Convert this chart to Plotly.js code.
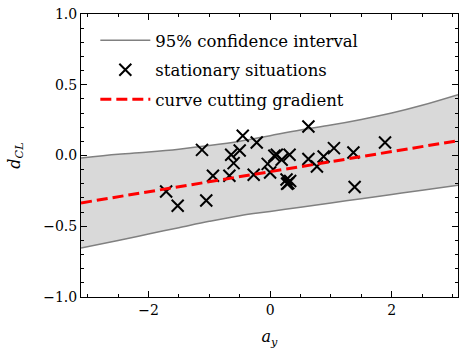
<!DOCTYPE html>
<html>
<head>
<meta charset="utf-8">
<script src="https://cdn.plot.ly/plotly-3.0.1.min.js"></script>
<style>
  body { margin: 0; background: #fff; }
  #plot { width: 466px; height: 355px; }
</style>
</head>
<body>
<div id="plot"></div>
<script>
// stationary situations
const ayPoints = [-1.71, -1.52, -1.12, -1.05, -0.94, -0.67, -0.64, -0.60, -0.50, -0.45,
    -0.22, -0.27, -0.04, 0.07, 0.0, 0.11, 0.19, 0.32, 0.27, 0.30, 0.33, 0.28,
    0.63, 0.63, 0.77, 0.88, 1.05, 1.37, 1.39, 1.89];
const dclPoints = [-0.254, -0.355, 0.04, -0.318, -0.143, -0.143, 0.005, -0.054, 0.035, 0.139,
    0.092, -0.136, -0.059, -0.002, -0.12, 0.005, -0.03, 0.005, -0.17, -0.195, -0.18, -0.2,
    0.205, -0.025, -0.078, -0.007, 0.052, 0.021, -0.223, 0.092];

// confidence band
const bandX = [-3.11, -2.5, -2, -1.5, -1, -0.5, 0, 0.5, 1, 1.5, 2, 2.5, 3.09];
const bandUpper = [-0.018, 0.008, 0.025, 0.045, 0.07, 0.10, 0.14, 0.18, 0.215, 0.255, 0.30, 0.355, 0.43];
const bandLower = [-0.654, -0.60, -0.555, -0.51, -0.465, -0.425, -0.395, -0.365, -0.335, -0.305, -0.275, -0.245, -0.21];

// curve cutting gradient
const lineX = [-3.11, 3.09];
const lineY = [-0.335, 0.105];

const serif = 'DejaVu Serif, Liberation Serif, serif';

const traces = [
    {
        x: bandX, y: bandLower, type: 'scatter', mode: 'lines',
        line: { color: '#808080', width: 1.5, shape: 'spline' },
        name: '95% confidence interval', legendgroup: 'ci'
    },
    {
        x: bandX, y: bandUpper, type: 'scatter', mode: 'lines',
        fill: 'tonexty', fillcolor: '#d9d9d9',
        line: { color: '#808080', width: 1.5, shape: 'spline' },
        showlegend: false, legendgroup: 'ci'
    },
    {
        x: ayPoints, y: dclPoints, type: 'scatter', mode: 'markers',
        marker: { symbol: 'x-thin-open', size: 12, color: 'black', line: { color: 'black', width: 2 } },
        name: 'stationary situations', legendgroup: 'pts'
    },
    {
        x: lineX, y: lineY, type: 'scatter', mode: 'lines',
        line: { color: 'red', width: 3, dash: '11px,5px' },
        name: 'curve cutting gradient', legendgroup: 'fit'
    }
];

const axisCommon = {
    showline: true, linecolor: 'black', linewidth: 1, mirror: 'allticks',
    ticks: 'inside', ticklen: 6, tickwidth: 1, tickcolor: 'black',
    showgrid: false, zeroline: false,
    tickfont: { family: serif, size: 14, color: 'black' }
};

const layout = {
    width: 466, height: 355,
    margin: { l: 81, r: 8, t: 14, b: 58 },
    paper_bgcolor: 'white', plot_bgcolor: 'white',
    font: { family: serif, color: 'black' },
    xaxis: Object.assign({}, axisCommon, {
        range: [-3.11, 3.09], tick0: 0, dtick: 2,
        minor: { dtick: 0.5, ticks: 'inside', ticklen: 3, tickcolor: 'black' },
        title: { text: '<i>a<sub>y</sub></i>', font: { family: serif, size: 16 }, standoff: 14 }
    }),
    yaxis: Object.assign({}, axisCommon, {
        range: [-1, 1], tick0: 0, dtick: 0.5, tickformat: '.1f',
        minor: { dtick: 0.1, ticks: 'inside', ticklen: 3, tickcolor: 'black' },
        title: { text: '<i>d<sub>CL</sub></i>', font: { family: serif, size: 16 }, standoff: 18 }
    }),
    legend: {
        x: 0.038, y: 0.968, xanchor: 'left', yanchor: 'top',
        traceorder: 'grouped', tracegroupgap: 5,
        bgcolor: 'rgba(0,0,0,0)', font: { family: serif, size: 16.5 },
        itemwidth: 50
    }
};

Plotly.newPlot('plot', traces, layout, { staticPlot: true });
</script>
</body>
</html>
